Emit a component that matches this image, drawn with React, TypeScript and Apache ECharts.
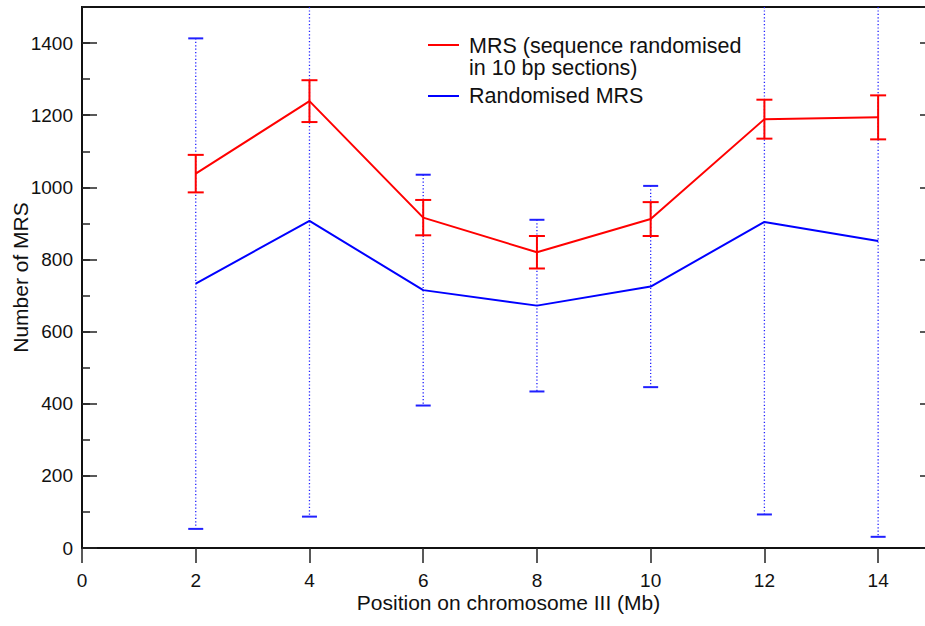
import React, { useEffect, useRef } from "react";
import * as echarts from "echarts";

const positions = [2, 4, 6, 8, 10, 12, 14];
const mrsValues = [1038, 1239, 916, 820, 912, 1189, 1194];
const mrsErrors = [52, 58, 49, 45, 47, 54, 61];
const randValues = [733, 907, 715, 672, 725, 904, 851];
const randErrors = [680, 820, 320, 238, 279, 811, 820];

const mrsName = "MRS (sequence randomised in 10 bp sections)";
const mrsLegendLines = ["MRS (sequence randomised", "in 10 bp sections)"];
const randName = "Randomised MRS";
const xTitle = "Position on chromosome III (Mb)";
const yTitle = "Number of MRS";

const FONT = "'Liberation Sans', Arial, Helvetica, sans-serif";

function errorRender(color: string, dotted: boolean, capW: number) {
  return (params: any, api: any) => {
    const x = api.value(0);
    const m = api.value(1);
    const e = api.value(2);
    const top = api.coord([x, m + e]);
    const bot = api.coord([x, m - e]);
    const cs = params.coordSys;
    const yMin = cs.y;
    const yMax = cs.y + cs.height;
    const t = Math.max(top[1], yMin);
    const b = Math.min(bot[1], yMax);
    const children: any[] = [
      {
        type: "line",
        shape: { x1: top[0], y1: t, x2: bot[0], y2: b },
        style: dotted
          ? { stroke: color, lineWidth: 1.3, lineDash: [1.2, 2.2] }
          : { stroke: color, lineWidth: 2 },
      },
    ];
    if (top[1] >= yMin) {
      children.push({
        type: "line",
        shape: { x1: top[0] - capW / 2, y1: top[1], x2: top[0] + capW / 2, y2: top[1] },
        style: { stroke: color, lineWidth: 2 },
      });
    }
    if (bot[1] <= yMax) {
      children.push({
        type: "line",
        shape: { x1: bot[0] - capW / 2, y1: bot[1], x2: bot[0] + capW / 2, y2: bot[1] },
        style: { stroke: color, lineWidth: 2 },
      });
    }
    return { type: "group", children };
  };
}

export default function App() {
  const ref = useRef<HTMLDivElement>(null);
  useEffect(() => {
    if (!ref.current) return;
    const chart = echarts.init(ref.current, undefined, { renderer: "svg" });
    const mrsLine = positions.map((p, i) => [p, mrsValues[i]]);
    const randLine = positions.map((p, i) => [p, randValues[i]]);
    const mrsErr = positions.map((p, i) => [p, mrsValues[i], mrsErrors[i]]);
    const randErr = positions.map((p, i) => [p, randValues[i], randErrors[i]]);

    const gridBase = {
      left: 82,
      top: 7,
      right: -10,
      bottom: 78,
      containLabel: false,
      outerBoundsMode: "none",
    };
    const baseY = {
      type: "value",
      min: 0,
      max: 1500,
      splitLine: { show: false },
    };
    const tickStyle = { color: "#222", width: 1.5 };

    chart.setOption({
      animation: false,
      backgroundColor: "#ffffff",
      textStyle: { fontFamily: FONT },
      grid: [
        { ...gridBase, show: true, borderColor: "#111", borderWidth: 2 },
        { ...gridBase, show: false },
      ],
      xAxis: [
        {
          gridIndex: 0,
          type: "value",
          min: 0,
          max: 15,
          interval: 2,
          name: xTitle,
          nameLocation: "middle",
          nameGap: 44,
          nameMoveOverlap: false,
          nameTextStyle: { fontSize: 21, color: "#111", fontFamily: FONT },
          axisLine: { show: true, lineStyle: { color: "#111", width: 2 } },
          axisTick: { show: true, inside: false, length: 15, lineStyle: tickStyle },
          axisLabel: {
            show: true,
            margin: 23,
            fontSize: 19,
            color: "#111",
            fontFamily: FONT,
            showMaxLabel: false,
            formatter: (v: number) => String(v),
          },
          splitLine: { show: false },
        },
        {
          gridIndex: 1,
          type: "value",
          min: 0,
          max: 15,
          show: false,
        },
      ],
      yAxis: [
        {
          ...baseY,
          gridIndex: 0,
          interval: 200,
          position: "left",
          name: yTitle,
          nameLocation: "middle",
          nameGap: 51,
          nameMoveOverlap: false,
          nameRotate: 90,
          nameTextStyle: { fontSize: 21, color: "#111", fontFamily: FONT },
          axisLine: { show: true, lineStyle: { color: "#111", width: 2 } },
          axisTick: { show: true, inside: true, length: 15, lineStyle: tickStyle },
          axisLabel: {
            show: true,
            margin: 9,
            fontSize: 19,
            color: "#111",
            fontFamily: FONT,
            showMaxLabel: false,
            formatter: (v: number) => String(v),
          },
        },
        {
          ...baseY,
          gridIndex: 1,
          interval: 100,
          position: "left",
          axisLine: { show: false },
          axisTick: { show: true, inside: true, length: 8, lineStyle: tickStyle },
          axisLabel: { show: false },
        },
        {
          ...baseY,
          gridIndex: 1,
          interval: 200,
          position: "right",
          axisLine: { show: true, lineStyle: { color: "#111", width: 2 } },
          axisTick: { show: true, inside: true, length: 15, lineStyle: tickStyle },
          axisLabel: { show: false },
        },
      ],
      graphic: [
        {
          type: "line",
          shape: { x1: 428, y1: 45, x2: 459, y2: 45 },
          style: { stroke: "#ff0000", lineWidth: 2 },
        },
        {
          type: "text",
          x: 469,
          y: 46,
          style: {
            text: mrsLegendLines[0],
            fontSize: 21.5,
            fontFamily: FONT,
            fill: "#111",
            verticalAlign: "middle",
          },
        },
        {
          type: "text",
          x: 469,
          y: 68,
          style: {
            text: mrsLegendLines[1],
            fontSize: 21.5,
            fontFamily: FONT,
            fill: "#111",
            verticalAlign: "middle",
          },
        },
        {
          type: "line",
          shape: { x1: 428, y1: 96, x2: 459, y2: 96 },
          style: { stroke: "#0000ff", lineWidth: 2 },
        },
        {
          type: "text",
          x: 469,
          y: 96,
          style: {
            text: randName,
            fontSize: 21.5,
            fontFamily: FONT,
            fill: "#111",
            verticalAlign: "middle",
          },
        },
      ],
      series: [
        {
          name: randName + " error",
          type: "custom",
          xAxisIndex: 0,
          yAxisIndex: 0,
          renderItem: errorRender("#2020ff", true, 15),
          encode: { x: 0, y: 1 },
          data: randErr,
          z: 2,
        },
        {
          name: randName,
          type: "line",
          xAxisIndex: 0,
          yAxisIndex: 0,
          data: randLine,
          symbol: "none",
          lineStyle: { color: "#0000ff", width: 2 },
          itemStyle: { color: "#0000ff" },
          z: 3,
        },
        {
          name: mrsName + " error",
          type: "custom",
          xAxisIndex: 0,
          yAxisIndex: 0,
          renderItem: errorRender("#ff0000", false, 16),
          encode: { x: 0, y: 1 },
          data: mrsErr,
          z: 4,
        },
        {
          name: mrsName,
          type: "line",
          xAxisIndex: 0,
          yAxisIndex: 0,
          data: mrsLine,
          symbol: "none",
          lineStyle: { color: "#ff0000", width: 2 },
          itemStyle: { color: "#ff0000" },
          z: 5,
        },
      ],
    });
    return () => chart.dispose();
  }, []);
  return (
    <div
      ref={ref}
      style={{ position: "absolute", left: 0, top: 0, width: 925, height: 626 }}
    />
  );
}
